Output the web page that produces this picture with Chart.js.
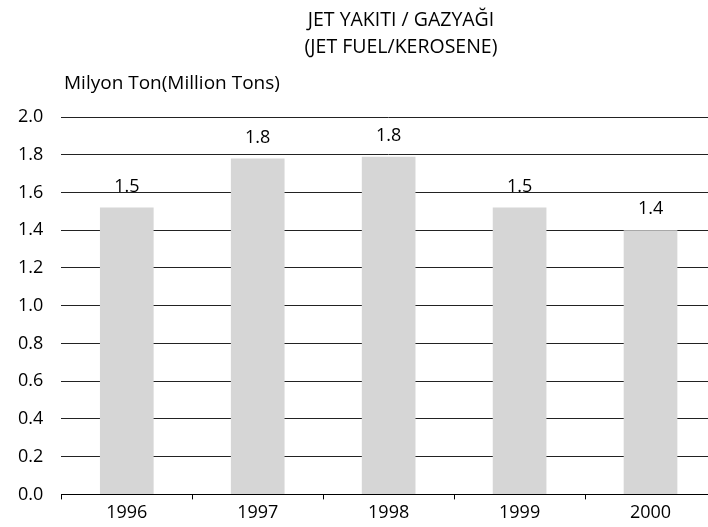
<!DOCTYPE html>
<html>
<head>
<meta charset="utf-8">
<script src="https://cdn.jsdelivr.net/npm/chart.js@4"></script>
<style>
  html, body { margin: 0; padding: 0; background: #fff; overflow: hidden; }
  #wrap { width: 716px; height: 527px; }
</style>
</head>
<body>
<div id="wrap"><canvas id="myChart"></canvas></div>
<script>
const years = ['1996', '1997', '1998', '1999', '2000'];
const tons = [1.52, 1.78, 1.79, 1.52, 1.40];
const valueLabels = ['1.5', '1.8', '1.8', '1.5', '1.4'];
const titleLines = ['JET YAKITI / GAZYAĞI', '(JET FUEL/KEROSENE)'];
const unitLabel = 'Milyon Ton(Million Tons)';

const FONT = '"Open Sans", "Noto Sans", sans-serif';

// titles, unit label and value labels above the bars
const textPlugin = {
    id: 'texts',
    afterDatasetsDraw(chart) {
        const c = chart.ctx;
        c.save();
        c.fillStyle = '#000';
        c.font = '19.5px ' + FONT;
        c.textAlign = 'center';
        c.textBaseline = 'middle';
        c.fillText(titleLines[0], 401, 20);
        c.fillText(titleLines[1], 401, 47);
        c.font = '19px ' + FONT;
        c.textAlign = 'left';
        c.fillText(unitLabel, 64, 84);

        c.font = '18px ' + FONT;
        c.textAlign = 'center';
        c.textBaseline = 'alphabetic';
        chart.getDatasetMeta(0).data.forEach((bar, i) => {
            c.fillText(valueLabels[i], bar.x, bar.y - 16);
        });
        c.restore();
    }
};

new Chart(document.getElementById('myChart'), {
    type: 'bar',
    data: {
        labels: years,
        datasets: [
            {
                data: tons,
                backgroundColor: '#d6d6d6',
                borderWidth: 0,
                barPercentage: 0.41,
                categoryPercentage: 1
            }
        ]
    },
    options: {
        responsive: true,
        maintainAspectRatio: false,
        animation: false,
        layout: {
            padding: { top: 117, left: 0, right: 0, bottom: 0 }
        },
        plugins: {
            legend: { display: false },
            title: { display: false },
            tooltip: { enabled: false }
        },
        scales: {
            x: {
                offset: true,
                border: { display: true, color: '#000', width: 1 },
                grid: {
                    drawOnChartArea: false,
                    drawTicks: true,
                    tickLength: 5,
                    color: '#000'
                },
                ticks: {
                    color: '#000',
                    font: { family: FONT, size: 18 },
                    padding: 3
                }
            },
            y: {
                min: 0,
                max: 2,
                border: { display: false },
                grid: {
                    color: '#222',
                    drawTicks: false
                },
                ticks: {
                    stepSize: 0.2,
                    color: '#000',
                    font: { family: FONT, size: 18 },
                    padding: 18,
                    callback: v => v.toFixed(1)
                }
            }
        }
    },
    plugins: [textPlugin]
});
</script>
</body>
</html>
